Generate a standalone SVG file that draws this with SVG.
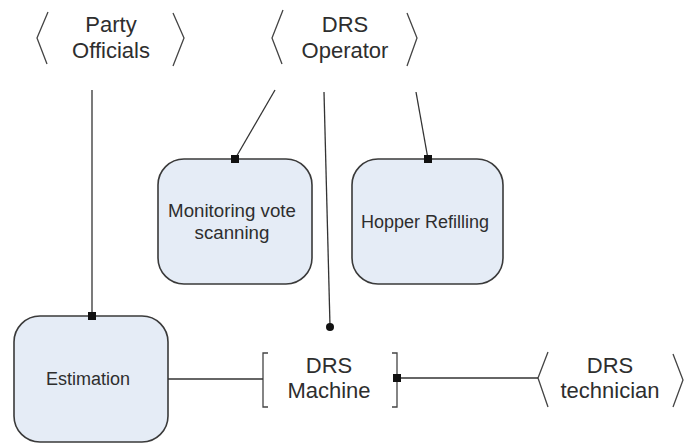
<svg xmlns="http://www.w3.org/2000/svg" width="693" height="444" viewBox="0 0 693 444">
<style>
text{font-family:"Liberation Sans",Arial,sans-serif;fill:#2e2e2e;text-anchor:middle}
.actor{font-size:22px}
.uc{font-size:18px}
.uc2{font-size:18.7px}
.box{fill:#e5ecf6;stroke:#3a3a3a;stroke-width:1.6}
.br{fill:none;stroke:#444;stroke-width:1.3}
.con{fill:none;stroke:#333;stroke-width:1.3}
.sq{fill:#111}
</style>
<rect width="693" height="444" fill="#fff"/>
<g id="party-officials">
<polyline class="br" points="48,12 37,38 47,64"/>
<polyline class="br" points="173,13 184,38 173,66"/>
<text class="actor" x="111" y="32">Party</text>
<text class="actor" x="111" y="58">Officials</text>
</g>
<g id="drs-operator">
<polyline class="br" points="283,10 272,38 282,64"/>
<polyline class="br" points="407,13 417,38 407,66"/>
<text class="actor" x="345" y="32">DRS</text>
<text class="actor" x="345" y="58">Operator</text>
</g>
<g id="monitoring">
<rect class="box" x="158" y="159" width="154" height="125" rx="26"/>
<text class="uc2" x="232" y="217">Monitoring vote</text>
<text class="uc2" x="232" y="239">scanning</text>
</g>
<g id="hopper">
<rect class="box" x="352" y="159" width="151" height="125" rx="26"/>
<text class="uc" x="425" y="228">Hopper Refilling</text>
</g>
<g id="estimation">
<rect class="box" x="14" y="316" width="154" height="126" rx="26"/>
<text class="uc" x="88" y="385">Estimation</text>
</g>
<g id="drs-machine">
<polyline class="br" points="268,353 263,353 263,407 268,407"/>
<polyline class="br" points="392,353 397,353 397,407 392,407"/>
<text class="actor" x="329" y="373">DRS</text>
<text class="actor" x="329" y="398">Machine</text>
</g>
<g id="drs-technician">
<polyline class="br" points="548,352 538,378 548,407"/>
<polyline class="br" points="673,354 683,380 673,407"/>
<text class="actor" x="610" y="373">DRS</text>
<text class="actor" x="610" y="398">technician</text>
</g>
<g id="connectors">
<line class="con" x1="92" y1="90" x2="92" y2="316"/>
<rect class="sq" x="88" y="312" width="8" height="8"/>
<line class="con" x1="275" y1="90" x2="235" y2="159"/>
<rect class="sq" x="231" y="155" width="8" height="8"/>
<line class="con" x1="416" y1="92" x2="428" y2="159"/>
<rect class="sq" x="424" y="155" width="8" height="8"/>
<line class="con" x1="324" y1="92" x2="330" y2="326"/>
<circle cx="330" cy="327" r="4" fill="#111"/>
<line class="con" x1="168" y1="379" x2="263" y2="379"/>
<line class="con" x1="397" y1="378" x2="538" y2="378"/>
<rect class="sq" x="393" y="374" width="8" height="8"/>
</g>
</svg>
